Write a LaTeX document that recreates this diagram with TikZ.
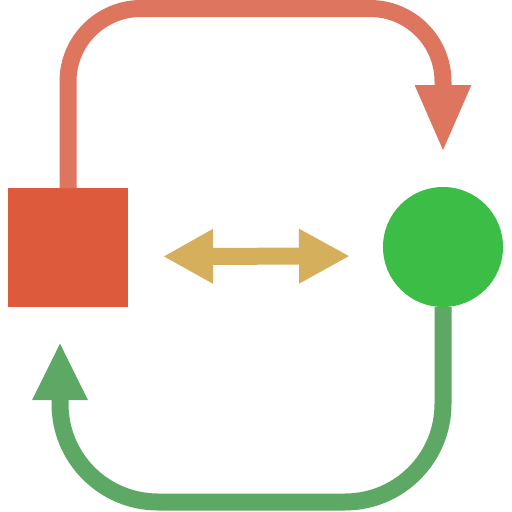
\documentclass[tikz,border=0pt]{standalone}
\definecolor{rouge}{RGB}{221,91,60}
\definecolor{rougeclair}{RGB}{222,117,94}
\definecolor{vert}{RGB}{59,189,70}
\definecolor{vertmed}{RGB}{94,168,101}
\definecolor{ocre}{RGB}{214,175,92}
\usepackage{tikz}
\usetikzlibrary{arrows.meta}

\begin{document}
\begin{tikzpicture}[x=1pt,y=-1pt]
				\useasboundingbox (0,0) rectangle (512,512);
				\node[fill=rouge,inner sep=0pt,outer sep=0pt,
				minimum width=120pt,minimum height=119pt]
				(carre) at (68,247.5){};
				\node[fill=vert,circle,inner sep=0pt,outer sep=0pt,
				minimum size=120pt]
				(rond) at (443,247){};
				\coordinate (pointe1) at (443,153);
				\coordinate (pointe2) at (60,342);
				\draw[rougeclair,line width=17pt,rounded corners=73pt,
				-{Triangle[width=51pt,length=68pt]}]
				(carre.north) |- (443,8.5) -- (pointe1);
				\draw[vertmed,line width=17pt,rounded corners=98pt,
				-{Triangle[width=51pt,length=58pt]}]
				(rond.south) |- (60,502) -- (pointe2);
				\draw[ocre,line width=17pt,shorten <=35pt,shorten >=33pt,
				{Triangle[width=51pt,length=50pt]}-{Triangle[width=51pt,length=51pt]}]
				([yshift=-9pt]carre.east)--([yshift=-9pt]rond.west);
			\end{tikzpicture}
\end{document}
